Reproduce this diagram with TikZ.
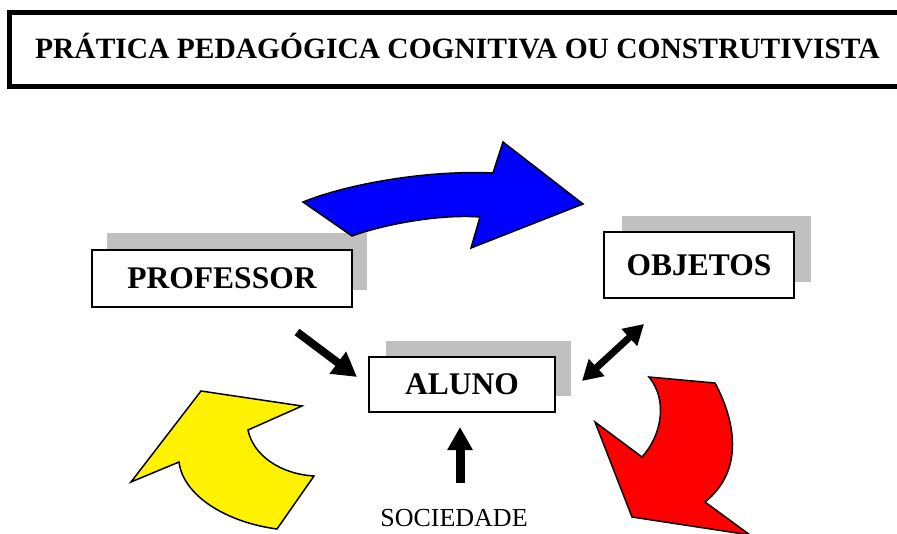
\documentclass[tikz,border=0pt]{standalone}
\usepackage{fontspec}
\setmainfont{Liberation Serif}
\usetikzlibrary{arrows.meta}
\definecolor{shadowgray}{RGB}{192,192,192}
\begin{document}
\begin{tikzpicture}[x=1pt,y=-1pt,
  box/.style={draw=black, line width=1.5pt, fill=white, inner sep=0pt,
    font=\fontsize{31.5}{36}\bfseries\selectfont},
  shadowbox/.style={fill=shadowgray},
  bigarrow/.style={draw=black, line width=1.5pt, line join=miter},
  thickarrow/.style={line width=8pt, -{Triangle[length=24pt,width=26pt]}},
  dblarrow/.style={line width=7pt, {Triangle[length=20pt,width=22pt]}-{Triangle[length=20pt,width=22pt]}},
  uparrow/.style={line width=9pt, -{Triangle[length=23pt,width=24pt]}}]
\useasboundingbox (0,0) rectangle (897,533);
% title
\draw[line width=5pt] (9.5,12.5) rectangle (912,86);
\node[inner sep=0pt, font=\fontsize{29.5}{34}\bfseries\selectfont] (title) at (457.5,46) {PRÁTICA PEDAGÓGICA COGNITIVA OU CONSTRUTIVISTA};
% shadows
\fill[shadowgray] (107,233) rectangle (367,290);
\fill[shadowgray] (622,216) rectangle (811,282);
\fill[shadowgray] (386,341) rectangle (571,396);
% blue arrow
\path[bigarrow, fill=blue] (303,202) .. controls (350,183) and (430,170) .. (493,173)
  -- (503,142) -- (583,204) -- (471,248) -- (480,217)
  .. controls (440,214) and (385,224) .. (352,236) -- cycle;
% yellow arrow
\path[bigarrow, fill=yellow] (201,391) -- (302,406) -- (248,430)
  .. controls (253,455) and (280,474) .. (314,476) -- (277,529)
  .. controls (225,522) and (183,495) .. (179,462) -- (131,482) -- cycle;
% red arrow
\path[bigarrow, fill=red] (649,377) -- (715,383)
  .. controls (735,420) and (745,470) .. (705,502) -- (750,535) -- (632,517)
  -- (595,422) -- (642,457) .. controls (662,435) and (668,400) .. (649,377) -- cycle;
% boxes
\node[box, minimum width=260pt, minimum height=57pt] (prof) at (222,278.5) {PROFESSOR};
\node[box, minimum width=190pt, minimum height=66pt] (obj) at (699,265) {OBJETOS};
\node[box, minimum width=186pt, minimum height=55pt] (aluno) at (462,384.5) {ALUNO};
\node[inner sep=0pt, font=\fontsize{26}{30}\selectfont] (soc) at (454,518.5) {SOCIEDADE};
% small arrows
\coordinate (pa) at (297,332);
\coordinate (pb) at (357,377);
\coordinate (da) at (582,381);
\coordinate (db) at (644,324);
\coordinate (ua) at (460,483);
\coordinate (ub) at (460,427);
\draw[thickarrow] (pa) -- (pb);
\draw[dblarrow] (da) -- (db);
\draw[uparrow] (ua) -- (ub);
\end{tikzpicture}
\end{document}
